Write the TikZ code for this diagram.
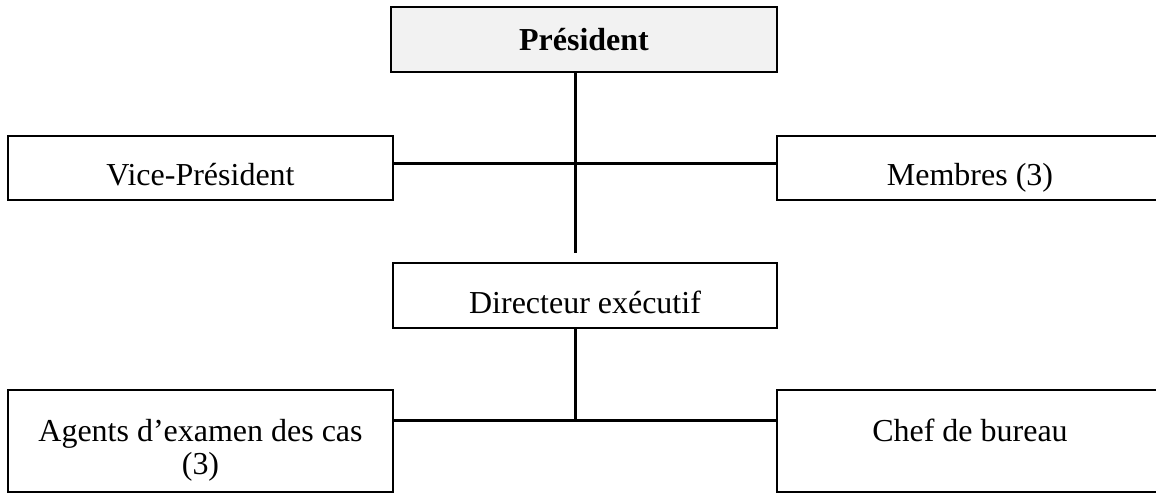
\documentclass[tikz,border=0pt]{standalone}
\usepackage{fontspec}
\setmainfont{Liberation Serif}
\usepackage{tikz}
\usepackage{xcolor}

\begin{document}
\begin{tikzpicture}[
  office/.style={draw, line width=1.4pt, inner sep=0pt, align=center, font=\fontsize{18.2}{18.8}\selectfont},
  lowtext/.style={text height=22pt, text depth=1.8pt},
  twoline/.style={text height=40pt, text depth=1.6pt},
  link/.style={line width=1.7pt}
]
\useasboundingbox (0,0) rectangle (23.12,-9.86);

% top
\node[office, fill=black!5, minimum width=7.72cm, minimum height=1.30cm] (pres) at (11.68,-0.79) {\textbf{Président}};

% second row
\node[office, lowtext, minimum width=7.70cm, minimum height=1.28cm] (vice) at (4.01,-3.36) {Vice-Président};
\node[office, lowtext, minimum width=7.72cm, minimum height=1.28cm] (memb) at (19.40,-3.36) {Membres (3)};

% director
\node[office, lowtext, minimum width=7.68cm, minimum height=1.30cm] (dir) at (11.70,-5.91) {Directeur exécutif};

% bottom row
\node[office, twoline, minimum width=7.70cm, minimum height=2.04cm] (agents) at (4.01,-8.82) {Agents d’examen des cas\\(3)};
\node[office, twoline, minimum width=7.72cm, minimum height=2.04cm] (chef) at (19.40,-8.82) {Chef de bureau\\\strut};

% joints
\coordinate (trunk) at (11.50,-5.06);
\coordinate (hub) at (11.50,-3.26);
\coordinate (lowhub) at (11.50,-8.40);

% connections
\draw[link] (pres.south -| trunk) -- (trunk);
\draw[link] (vice.east |- hub) -- (memb.west |- hub);
\draw[link] (dir.south -| lowhub) -- (lowhub);
\draw[link] (agents.east |- lowhub) -- (chef.west |- lowhub);

\end{tikzpicture}
\end{document}
